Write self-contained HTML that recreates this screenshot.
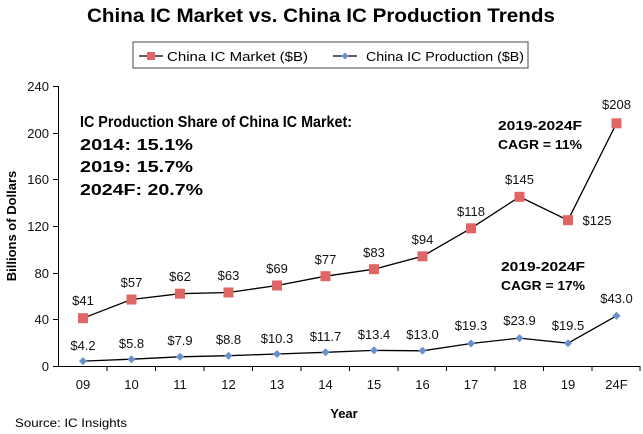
<!DOCTYPE html>
<html><head><style>body{margin:0;background:#fff}svg{display:block}</style></head>
<body>
<svg width="643" height="434" viewBox="0 0 643 434" xmlns="http://www.w3.org/2000/svg" font-family="Liberation Sans, sans-serif">
<text x="321" y="22" font-size="19" font-weight="bold" text-anchor="middle" textLength="468" lengthAdjust="spacingAndGlyphs">China IC Market vs. China IC Production Trends</text>
<rect x="133" y="42" width="395" height="26" fill="#fff" stroke="#666" stroke-width="1.2"/>
<line x1="139" y1="56" x2="163" y2="56" stroke="#000" stroke-width="1.2"/>
<rect x="147" y="52" width="8" height="8" fill="#e06666"/>
<text x="167" y="61" font-size="13" textLength="141" lengthAdjust="spacingAndGlyphs">China IC Market ($B)</text>
<line x1="333" y1="56" x2="357" y2="56" stroke="#000" stroke-width="1.2"/>
<path d="M345 52.5 L348.5 56 L345 59.5 L341.5 56Z" fill="#6a8fcf"/>
<text x="366" y="61" font-size="13" textLength="158" lengthAdjust="spacingAndGlyphs">China IC Production ($B)</text>
<g stroke="#000" stroke-width="1">
<line x1="58.5" y1="86" x2="58.5" y2="367"/>
<line x1="58" y1="366.5" x2="640" y2="366.5"/>
<line x1="53" y1="86.5" x2="58" y2="86.5"/><line x1="53" y1="133.5" x2="58" y2="133.5"/><line x1="53" y1="179.5" x2="58" y2="179.5"/><line x1="53" y1="226.5" x2="58" y2="226.5"/><line x1="53" y1="273.5" x2="58" y2="273.5"/><line x1="53" y1="319.5" x2="58" y2="319.5"/><line x1="53" y1="366.5" x2="58" y2="366.5"/>
<path d="M107 366v5M155.5 366v5M204 366v5M252.5 366v5M301 366v5M349.5 366v5M398 366v5M446.5 366v5M495 366v5M543.5 366v5M592 366v5M640 366v5"/>
</g>
<g font-size="13" text-anchor="end" fill="#111">
<text x="49" y="91">240</text><text x="49" y="138">200</text><text x="49" y="184">160</text><text x="49" y="231">120</text><text x="49" y="278">80</text><text x="49" y="324">40</text><text x="49" y="371">0</text>
</g>
<text transform="translate(16,226) rotate(-90)" font-size="13" font-weight="bold" text-anchor="middle">Billions of Dollars</text>
<g font-size="13" text-anchor="middle" fill="#111">
<text x="83" y="389">09</text><text x="131.5" y="389">10</text><text x="180" y="389">11</text><text x="228.5" y="389">12</text><text x="277" y="389">13</text><text x="325.5" y="389">14</text><text x="374" y="389">15</text><text x="422.5" y="389">16</text><text x="471" y="389">17</text><text x="519.5" y="389">18</text><text x="568" y="389">19</text><text x="616.5" y="389">24F</text>
</g>
<text x="344" y="418" font-size="13" font-weight="bold" text-anchor="middle">Year</text>
<text x="15" y="427" font-size="12" textLength="112" lengthAdjust="spacingAndGlyphs">Source: IC Insights</text>
<g font-size="15.5" font-weight="bold">
<text x="80" y="127" textLength="272" lengthAdjust="spacingAndGlyphs">IC Production Share of China IC Market:</text>
<text x="80" y="150" textLength="113" lengthAdjust="spacingAndGlyphs">2014: 15.1%</text>
<text x="80" y="172" textLength="113" lengthAdjust="spacingAndGlyphs">2019: 15.7%</text>
<text x="80" y="195" textLength="123" lengthAdjust="spacingAndGlyphs">2024F: 20.7%</text>
</g>
<g font-size="12.5" font-weight="bold">
<text x="498" y="130" textLength="84" lengthAdjust="spacingAndGlyphs">2019-2024F</text>
<text x="498" y="149" textLength="84" lengthAdjust="spacingAndGlyphs">CAGR = 11%</text>
<text x="501" y="271" textLength="84" lengthAdjust="spacingAndGlyphs">2019-2024F</text>
<text x="501" y="290" textLength="84" lengthAdjust="spacingAndGlyphs">CAGR = 17%</text>
</g>
<polyline fill="none" stroke="#000" stroke-width="1.3" points="83,318.2 131.5,299.5 180,293.7 228.5,292.5 277,285.5 325.5,276.2 374,269.2 422.5,256.3 471,228.3 519.5,196.8 568,220.2 616.5,123.3"/>
<g fill="#e06666">
<rect x="78" y="313.2" width="10" height="10"/><rect x="126.5" y="294.5" width="10" height="10"/><rect x="175" y="288.7" width="10" height="10"/><rect x="223.5" y="287.5" width="10" height="10"/><rect x="272" y="280.5" width="10" height="10"/><rect x="320.5" y="271.2" width="10" height="10"/><rect x="369" y="264.2" width="10" height="10"/><rect x="417.5" y="251.3" width="10" height="10"/><rect x="466" y="223.3" width="10" height="10"/><rect x="514.5" y="191.8" width="10" height="10"/><rect x="563" y="215.2" width="10" height="10"/><rect x="611.5" y="118.3" width="10" height="10"/>
</g>
<polyline fill="none" stroke="#000" stroke-width="1.3" points="83,361.1 131.5,359.2 180,356.8 228.5,355.7 277,354 325.5,352.3 374,350.4 422.5,350.8 471,343.5 519.5,338.1 568,343.2 616.5,315.8"/>
<g fill="#6a8fcf">
<path d="M83 357.1l4 4-4 4-4-4z"/><path d="M131.5 355.2l4 4-4 4-4-4z"/><path d="M180 352.8l4 4-4 4-4-4z"/><path d="M228.5 351.7l4 4-4 4-4-4z"/><path d="M277 350l4 4-4 4-4-4z"/><path d="M325.5 348.3l4 4-4 4-4-4z"/><path d="M374 346.4l4 4-4 4-4-4z"/><path d="M422.5 346.8l4 4-4 4-4-4z"/><path d="M471 339.5l4 4-4 4-4-4z"/><path d="M519.5 334.1l4 4-4 4-4-4z"/><path d="M568 339.2l4 4-4 4-4-4z"/><path d="M616.5 311.8l4 4-4 4-4-4z"/>
</g>
<g font-size="13" text-anchor="middle" fill="#111">
<text x="83" y="305">$41</text><text x="131.5" y="287">$57</text><text x="180" y="281">$62</text><text x="228.5" y="280">$63</text><text x="277" y="273">$69</text><text x="325.5" y="264">$77</text><text x="374" y="257">$83</text><text x="422.5" y="244">$94</text><text x="471" y="216">$118</text><text x="519.5" y="184">$145</text><text x="597" y="225">$125</text><text x="616.5" y="109">$208</text>
<text x="83" y="350">$4.2</text><text x="131.5" y="348">$5.8</text><text x="180" y="345">$7.9</text><text x="228.5" y="344">$8.8</text><text x="277" y="343">$10.3</text><text x="325.5" y="341">$11.7</text><text x="374" y="339">$13.4</text><text x="422.5" y="339">$13.0</text><text x="471" y="330">$19.3</text><text x="519.5" y="325">$23.9</text><text x="568" y="330">$19.5</text><text x="616.5" y="303">$43.0</text>
</g>
</svg>
</body></html>
